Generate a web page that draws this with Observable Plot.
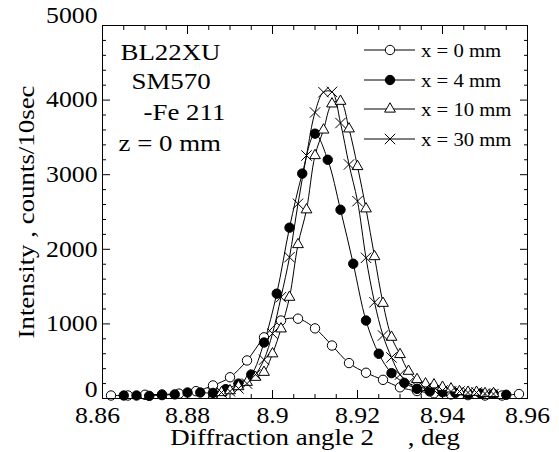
<!DOCTYPE html>
<html><head><meta charset="utf-8">
<script src="https://cdn.jsdelivr.net/npm/d3@7"></script>
<script src="https://cdn.jsdelivr.net/npm/@observablehq/plot@0.6"></script>
<style>body{margin:0;background:#fff}</style>
</head><body><div id="chart"></div>
<script>
// ---- data ----
const angle0 = [8.862,8.866,8.870,8.874,8.878,8.882,8.886,8.890,8.894,8.898,8.902,8.906,8.910,8.914,8.918,8.922,8.926,8.930,8.934,8.938,8.942,8.946,8.950,8.954,8.958];
const int0   = [40,40,50,55,65,98,175,285,510,820,1045,1070,940,710,475,345,250,150,100,70,55,45,40,40,60];

const angle4 = [8.865,8.868,8.871,8.874,8.877,8.880,8.883,8.886,8.889,8.892,8.895,8.898,8.901,8.904,8.907,8.910,8.913,8.916,8.919,8.922,8.925,8.928,8.931,8.934,8.937,8.940,8.943,8.946,8.949,8.952,8.955];
const int4   = [40,40,35,45,55,80,80,75,125,200,320,750,1405,2290,3015,3550,3200,2530,1806,1045,600,340,210,130,95,85,75,65,65,63,50];

const angle10 = [8.888,8.890,8.892,8.894,8.896,8.898,8.900,8.902,8.904,8.906,8.908,8.910,8.912,8.914,8.916,8.918,8.920,8.922,8.924,8.926,8.928,8.930,8.932,8.934,8.936,8.938,8.940,8.942,8.944,8.946,8.948,8.950,8.952];
const int10   = [80,105,160,218,285,352,600,934,1358,2064,2530,3257,3600,3950,3985,3615,3110,2543,1903,1277,822,590,366,255,197,184,151,130,94,85,85,67,67];

const angle30 = [8.886,8.888,8.890,8.892,8.894,8.896,8.898,8.900,8.902,8.904,8.906,8.908,8.910,8.912,8.914,8.916,8.918,8.920,8.922,8.924,8.926,8.928,8.930,8.932,8.934,8.936,8.938,8.940,8.942,8.944,8.946,8.948,8.950,8.952];
const int30   = [70,80,95,135,200,320,520,870,1358,1894,2610,3257,3834,4106,4110,3693,3137,2645,1886,1290,845,550,320,210,160,134,114,107,94,94,80,80,67,60];

const seriesNames = ["x = 0 mm", "x = 4 mm", "x = 10 mm", "x = 30 mm"];

const xMajor = [8.86, 8.88, 8.90, 8.92, 8.94, 8.96];
const xTickLabels = ["8.86", "8.88", "8.9", "8.92", "8.94", "8.96"];
const xMinor = [8.865,8.870,8.875,8.885,8.890,8.895,8.905,8.910,8.915,8.925,8.930,8.935,8.945,8.950,8.955];
const yMajor = [0, 1000, 2000, 3000, 4000, 5000];
const yTickLabels = ["0", "1000", "2000", "3000", "4000", "5000"];
const yMinor = [200,400,600,800,1200,1400,1600,1800,2200,2400,2600,2800,3200,3400,3600,3800,4200,4400,4600,4800];

const xTitle = "Diffraction angle 2\u00A0\u00A0\u00A0\u00A0\u00A0, deg";
const yTitle = "Intensity , counts/10sec";
const annotation = ["BL22XU", "SM570", "-Fe 211", "z = 0 mm"];

// ---- build tables ----
const toRows = (xs, ys, s) => xs.map((x, i) => ({angle: x, intensity: ys[i], series: s}));
const rows0 = toRows(angle0, int0, seriesNames[0]);
const rows4 = toRows(angle4, int4, seriesNames[1]);
const rows10 = toRows(angle10, int10, seriesNames[2]);
const rows30 = toRows(angle30, int30, seriesNames[3]);

const styles = [
  {symbol: "circle", fill: "white", r: 4.7},
  {symbol: "circle", fill: "black", r: 4.7},
  {symbol: "triangle", fill: "white", r: 4.0},
  {symbol: "times", fill: "none", r: 4.8}
];
const allRows = [rows0, rows4, rows10, rows30];

const annotDx = [18, 29, 41, 16];
const annotBase = [60, 89, 120, 151];

// per-label nudges of the tick labels as drawn in the reference (end labels pulled inward/up)
const yLabelDy = {0: -9, 5000: -10};
const xLabelDx = {"8.86": -5};
const xFmt = d => xTickLabels[xMajor.indexOf(d)];
const yFmt = d => yTickLabels[yMajor.indexOf(d)];

const svg = Plot.plot({
  width: 559, height: 452,
  marginLeft: 102, marginRight: 32, marginTop: 25, marginBottom: 54,
  x: {domain: [8.86, 8.96]},
  y: {domain: [0, 5000]},
  style: {fontFamily: "'Liberation Serif', 'Times New Roman', serif", fontSize: "23px", color: "black", background: "white"},
  marks: [
    ...allRows.map(rows => Plot.line(rows, {x: "angle", y: "intensity", curve: "catmull-rom", stroke: "black", strokeWidth: 1})),
    ...allRows.map((rows, i) => Plot.dot(rows, {x: "angle", y: "intensity", symbol: styles[i].symbol, r: styles[i].r,
        fill: styles[i].fill, stroke: "black", strokeWidth: 1})),
    Plot.frame({stroke: "black", strokeWidth: 1}),
    Plot.axisX(xMajor, {anchor: "bottom", tickSize: -8, fill: "none", label: null}),
    Plot.axisX(xMinor, {anchor: "bottom", tickSize: -4, fill: "none", label: null}),
    Plot.axisX(xMajor, {anchor: "top", tickSize: -8, fill: "none", label: null}),
    Plot.axisX(xMinor, {anchor: "top", tickSize: -4, fill: "none", label: null}),
    Plot.axisY(yMajor, {anchor: "left", tickSize: -8, fill: "none", label: null}),
    Plot.axisY(yMinor, {anchor: "left", tickSize: -4, fill: "none", label: null}),
    Plot.axisY(yMajor, {anchor: "right", tickSize: -8, fill: "none", label: null}),
    Plot.axisY(yMinor, {anchor: "right", tickSize: -4, fill: "none", label: null}),
    ...xMajor.map(v => Plot.axisX([v], {anchor: "bottom", tickSize: 0, tickPadding: 8, tickFormat: xFmt, label: null,
        fontSize: 23, dx: xLabelDx[xFmt(v)] || 0})),
    ...yMajor.map(v => Plot.axisY([v], {anchor: "left", tickSize: 0, tickPadding: 5, tickFormat: yFmt, label: null,
        fontSize: 23, dy: yLabelDy[v] || 0})),
    Plot.text([xTitle], {text: d => d, frameAnchor: "bottom", dy: 39, textAnchor: "middle", lineAnchor: "middle", fontSize: 24}),
    Plot.text([yTitle], {text: d => d, frameAnchor: "left", dx: -76, rotate: -90, textAnchor: "middle", lineAnchor: "middle", fontSize: 24}),
    ...annotation.map((line, i) => Plot.text([line], {text: d => d, frameAnchor: "top-left", textAnchor: "start",
        dx: annotDx[i], dy: annotBase[i] - 25 - 8, lineAnchor: "middle", fontSize: 24}))
  ]
});

document.getElementById("chart").append(svg);

// legend (inside the plot, top right)
const leg = d3.select(svg).append("g").attr("class", "legend");
const legY = [50, 80, 109, 139];
const symType = {circle: d3.symbolCircle, triangle: d3.symbolTriangle, times: d3.symbolTimes};
seriesNames.forEach((name, i) => {
  const g = leg.append("g").attr("transform", `translate(0,${legY[i]})`);
  g.append("line").attr("x1", 364).attr("x2", 415).attr("y1", 0).attr("y2", 0).attr("stroke", "black");
  g.append("path").attr("transform", "translate(390,0)")
    .attr("d", d3.symbol(symType[styles[i].symbol], Math.PI * styles[i].r * styles[i].r)())
    .attr("fill", styles[i].fill).attr("stroke", "black");
  g.append("text").attr("transform", "translate(421,7)").attr("text-anchor", "start")
    .attr("font-size", 18.5).attr("fill", "black").text(name);
});

// the reference's lettering is horizontally wider: widen each label about its anchor
svg.querySelectorAll("text").forEach(t => {
  const tr = t.getAttribute("transform");
  if (tr) {
    t.setAttribute("transform", tr + " scale(1.12,1)");
  } else {
    const x = +(t.getAttribute("x") || 0), y = +(t.getAttribute("y") || 0);
    t.setAttribute("transform", `translate(${x},${y}) scale(1.12,1) translate(${-x},${-y})`);
  }
});
</script>
</body></html>
